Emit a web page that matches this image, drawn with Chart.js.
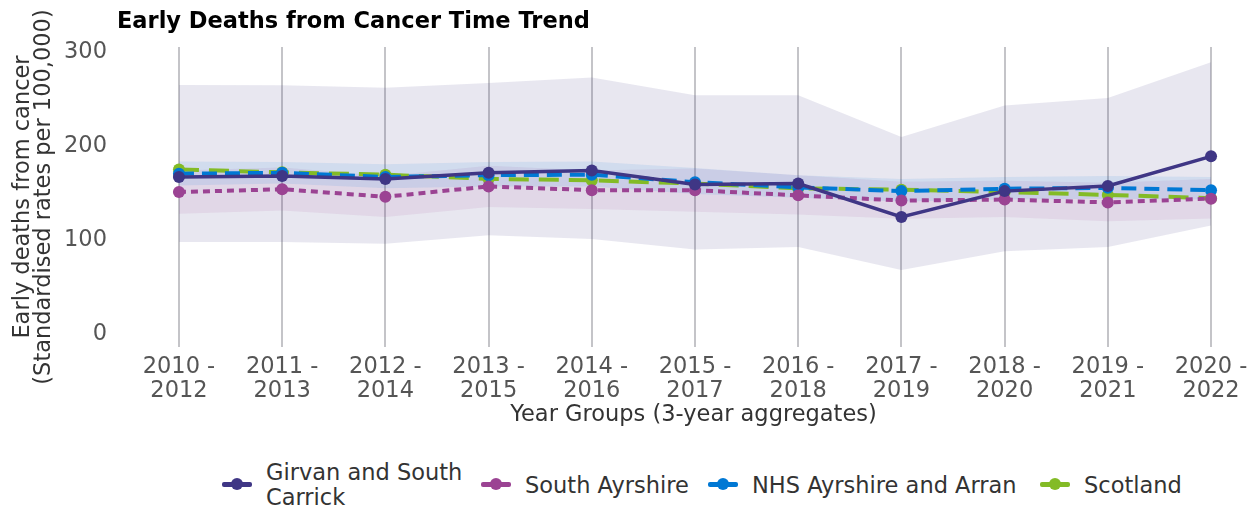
<!DOCTYPE html>
<html>
<head>
<meta charset="utf-8">
<script src="https://cdn.jsdelivr.net/npm/chart.js@4/dist/chart.umd.min.js"></script>
<style>
  html, body { margin: 0; padding: 0; background: #fff; }
  body { width: 1258px; height: 512px; position: relative; overflow: hidden; font-family: "DejaVu Sans", sans-serif; }
  #wrap { position: absolute; left: 0; top: 2px; width: 1258px; height: 440px; }
  #title { position: absolute; left: 117px; top: 6px; font-size: 22.5px; font-weight: bold; color: #000; line-height: 28px; white-space: nowrap; }
  .leg { position: absolute; top: 460px; height: 50px; display: flex; align-items: center; font-size: 22.5px; color: #333; line-height: 25px; white-space: nowrap; }
  .leg .ico { position: absolute; top: 22px; width: 30px; height: 5px; border-radius: 2px; }
  .leg .ico i { position: absolute; left: 9px; top: -4px; width: 12px; height: 12px; border-radius: 50%; }
  .leg .txt { position: absolute; }
</style>
</head>
<body>
<div id="wrap"><canvas id="chart1"></canvas></div>
<div id="title">Early Deaths from Cancer Time Trend</div>
<div id="legend"></div>
<script>
var yearGroups = [
  ['2010 -', '2012'], ['2011 -', '2013'], ['2012 -', '2014'], ['2013 -', '2015'],
  ['2014 -', '2016'], ['2015 -', '2017'], ['2016 -', '2018'], ['2017 -', '2019'],
  ['2018 -', '2020'], ['2019 -', '2021'], ['2020 -', '2022']
];
var seriesNames = ['Girvan and South Carrick', 'South Ayrshire', 'NHS Ayrshire and Arran', 'Scotland'];

var girvan        = [167, 168, 165, 171.5, 174, 159, 160, 124.5, 152, 157.5, 189];
var southAyrshire = [151, 154, 146, 157, 153, 153, 147.5, 142, 143, 140, 144];
var nhsAyrshire   = [170.5, 171.5, 167, 169, 169.5, 161.5, 156, 152, 154.5, 155.5, 153];
var scotland      = [175, 172, 169.5, 165, 163.5, 160, 155, 153.5, 151, 148, 144.5];

var girvanUpper = [265, 264.5, 262, 267, 273, 254, 254, 209.5, 243, 251, 289];
var girvanLower = [98, 98, 96, 105, 101, 90, 92.5, 68, 88, 92.5, 115.5];
var saUpper     = [174, 177, 168, 179, 174, 176, 169, 162, 163, 161, 165];
var saLower     = [128, 131.5, 124.5, 135, 133, 130, 127, 122.5, 124.5, 120, 123];
var nhsUpper    = [183.5, 183, 180.5, 183, 183.5, 176.5, 169, 165, 167, 168, 167];
var nhsLower    = [158, 160, 155, 157, 157, 149, 145, 141, 143, 144, 143];

var colours = ['#3f3685', '#9b4393', '#0078d4', '#83bb26'];
var dashes  = [[], [7, 5], [15, 8], [20, 10]];
var legendLeft = [222, 481, 708, 1040];

function pts(arr) {
  return arr.map(function(v, i) { return { x: i, y: v }; });
}

function band(upper, lower, fillColour) {
  return [
    { data: pts(upper), borderWidth: 0, pointRadius: 0, fill: '+1', backgroundColor: fillColour, order: 10 },
    { data: pts(lower), borderWidth: 0, pointRadius: 0, fill: false, order: 10 }
  ];
}

var lines = [girvan, southAyrshire, nhsAyrshire, scotland].map(function(arr, i) {
  return {
    label: seriesNames[i],
    data: pts(arr),
    borderColor: colours[i],
    backgroundColor: colours[i],
    borderWidth: i === 0 ? 3.5 : 4,
    borderDash: dashes[i],
    pointRadius: 6,
    pointBorderWidth: 0,
    fill: false,
    order: i
  };
});

var datasets = lines
  .concat(band(nhsUpper, nhsLower, 'rgba(0,120,212,0.10)'))
  .concat(band(saUpper, saLower, 'rgba(155,67,147,0.10)'))
  .concat(band(girvanUpper, girvanLower, 'rgba(63,54,133,0.12)'));

var tickFont = { family: 'DejaVu Sans', size: 22.5, lineHeight: 1.07 };

var ctx1 = document.getElementById('chart1').getContext('2d');
var chart = new Chart(ctx1, {
  type: 'line',
  data: { datasets: datasets },
  options: {
    responsive: true,
    maintainAspectRatio: false,
    animation: false,
    layout: { padding: { top: 45, left: 0, right: 16, bottom: 0 } },
    plugins: { legend: { display: false }, tooltip: { enabled: false } },
    scales: {
      x: {
        type: 'linear',
        min: -0.329,
        max: 10.3,
        afterBuildTicks: function(scale) {
          scale.ticks = yearGroups.map(function(_, i) { return { value: i }; });
        },
        afterFit: function(scale) {
          scale.height = 95;
          scale.paddingLeft = 0;
          scale.paddingRight = 0;
        },
        ticks: {
          autoSkip: false,
          maxRotation: 0,
          padding: 8,
          color: '#555',
          font: tickFont,
          callback: function(v) { return yearGroups[v]; }
        },
        grid: { display: true, drawTicks: false, color: '#c4c4c8', lineWidth: 2 },
        border: { display: false },
        title: {
          display: true,
          text: 'Year Groups (3-year aggregates)',
          color: '#333',
          font: { family: 'DejaVu Sans', size: 22.5, lineHeight: 1.07 },
          padding: { top: 0, bottom: 15 }
        }
      },
      y: {
        min: -13.83,
        max: 305.32,
        afterBuildTicks: function(scale) {
          scale.ticks = [0, 100, 200, 300].map(function(v) { return { value: v }; });
        },
        afterFit: function(scale) {
          scale.width = 145;
          scale.paddingTop = 0;
          scale.paddingBottom = 0;
        },
        ticks: { padding: 38, color: '#555', font: tickFont },
        grid: { display: false, drawTicks: false },
        border: { display: false },
        title: {
          display: true,
          text: ['Early deaths from cancer', '(Standardised rates per 100,000)'],
          color: '#333',
          font: { family: 'DejaVu Sans', size: 22.5, lineHeight: 0.95 },
          padding: { top: 12, bottom: 0 }
        }
      }
    }
  }
});

// legend below the plot
var legend = document.getElementById('legend');
seriesNames.forEach(function(name, i) {
  var item = document.createElement('div');
  item.className = 'leg';
  item.style.left = legendLeft[i] + 'px';
  var ico = document.createElement('div');
  ico.className = 'ico';
  ico.style.background = colours[i];
  ico.innerHTML = '<i style="background:' + colours[i] + '"></i>';
  var txt = document.createElement('div');
  txt.className = 'txt';
  txt.style.left = '44px';
  txt.innerHTML = i === 0 ? 'Girvan and South<br>Carrick' : name;
  item.appendChild(ico);
  item.appendChild(txt);
  legend.appendChild(item);
});
</script>
</body>
</html>
